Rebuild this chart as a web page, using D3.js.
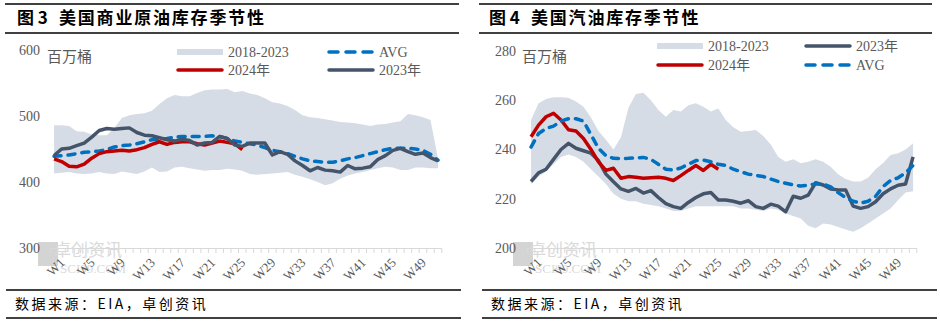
<!DOCTYPE html>
<html>
<head>
<meta charset="utf-8">
<script src="https://cdn.jsdelivr.net/npm/d3@7"></script>
<style>
  body { margin: 0; background: #fff; }
  svg { display: block; }
  .tick-label { font-family: "Liberation Serif", serif; font-size: 14px; fill: #595959; }
  .legend-text { font-family: "Liberation Serif", "Noto Sans CJK SC", serif; font-size: 14px; fill: #595959; }
  .unit { font-family: "Noto Sans CJK SC", sans-serif; font-size: 15px; fill: #595959; }
  .title { font-family: "Noto Sans CJK SC", sans-serif; font-size: 17px; font-weight: bold; fill: #000; }
  .source { font-family: "Noto Sans CJK SC", sans-serif; font-size: 14px; fill: #000; letter-spacing: 2.5px; }
</style>
</head>
<body>
<div id="chart"></div>
<script>
// categories
var weeks = d3.range(1, 53).map(function(i) { return "W" + i; });
var xTickLabels = ["W1", "W5", "W9", "W13", "W17", "W21", "W25", "W29", "W33", "W37", "W41", "W45", "W49"];

// 图3 crude oil (million barrels)
var crudeTicks = [300, 400, 500, 600];
var crudeHigh = [486, 486, 485, 477, 476, 472, 471, 471, 482, 497, 501, 503, 504, 508, 518, 527, 532, 530, 530, 535,
                 539, 540, 540, 541, 536, 538, 534, 532, 527, 521, 519, 515, 509, 501, 498, 497, 495, 493, 491, 490,
                 489, 487, 485, 487, 488, 490, 492, 503, 501, 498, 494, 435];
var crudeLow = [413, 414, 415, 413, 412, 413, 415, 413, 412, 416, 414, 412, 416, 422, 415, 416, 422, 423, 421, 419,
                417, 418, 418, 420, 419, 417, 412, 411, 412, 413, 414, 415, 411, 408, 404, 400, 395, 398, 405, 410,
                413, 415, 418, 421, 423, 422, 418, 418, 422, 422, 421, 421];
var crudeAvg = [439, 440, 441, 443, 445, 446, 447, 449, 453, 455, 456, 458, 461, 464, 465, 466, 468, 469, 469, 469,
                469, 470, 469, 466, 462, 460, 458, 456, 452, 448, 446, 443, 439, 435, 432, 431, 430, 430, 432, 435,
                437, 440, 443, 446, 449, 451, 451, 451, 450, 448, 442, 433];
var crude2023 = [440, 450, 451, 455, 459, 468, 478, 481, 480, 481, 482, 475, 471, 470, 467, 464, 462, 465, 463, 456,
                 459, 460, 469, 466, 456, 454, 459, 459, 459, 441, 446, 442, 432, 425, 417, 422, 418, 417, 415, 425,
                 420, 421, 423, 434, 440, 448, 451, 446, 442, 444, 437, 432];
var crude2024 = [435, 431, 424, 423, 427, 436, 443, 446, 447, 448, 447, 449, 452, 457, 461, 457, 460, 461, 461, 458,
                 456, 459, 462, 460, 458, 449];

// 图4 gasoline (million barrels)
var gasTicks = [200, 220, 240, 260, 280];
var gasHigh = [252, 258.8, 260.5, 261.2, 261.2, 261, 259.5, 257.4, 253, 247.5, 244, 240, 245, 257, 262.5, 263, 260, 256,
               253.3, 256, 255.4, 258, 258.8, 257.4, 255.4, 256.7, 252, 249, 247.2, 247.5, 247.9, 245.5, 242, 237, 235,
               236, 234.4, 235, 236, 235, 233, 230, 228, 227, 227, 228.5, 232, 234.5, 237.8, 238.5, 240, 242.5];
var gasLow = [226, 229, 231, 234, 237, 238, 237, 235, 232, 229, 226, 222, 220, 219, 219, 218, 217.5, 217, 216, 215,
              215, 216, 217, 217, 217, 217, 217, 217, 216, 216, 215.5, 215, 216, 215.5, 214, 213, 212, 209, 208, 210,
              209.5, 208.5, 207.5, 206.6, 208, 210, 212, 214, 216, 219.5, 222.5, 223];
var gasAvg = [241, 246.5, 248.5, 249.5, 251.5, 252.5, 252.5, 251.5, 246, 240.5, 237.5, 236.4, 236.3, 236.4, 236.6, 236.8,
              236, 234, 232, 231.7, 232.5, 234, 235.5, 235.7, 235, 234, 233.5, 232, 231, 230, 229.5, 229, 228, 227,
              226.3, 225.6, 225.2, 225.5, 226, 226, 224.8, 222.5, 220.5, 219, 218.2, 219, 221, 225, 227.4, 228.5, 230.5, 233.5];
var gas2023 = [227, 230.5, 232, 236, 240, 242.5, 240.5, 239.5, 238.5, 235.5, 230, 226.9, 224, 223, 224.2, 222.3, 223.3,
               220.5, 218, 216.8, 216.1, 218.5, 220.5, 222, 222.5, 219.5, 219.5, 219, 218.2, 219.2, 216.8, 216.1, 217.8,
               217, 214.7, 221, 220.2, 221.5, 226.5, 225.6, 224, 223.6, 223.6, 217, 216.1, 216.8, 218.8, 222, 224,
               225.5, 226, 237];
var gas2024 = [245.2, 249.9, 253.3, 254.7, 252, 248, 247.5, 244.5, 240, 235, 231.5, 232.4, 228.3, 229, 228.7, 228.3,
               228.5, 228.7, 228.3, 227.4, 229.4, 231.5, 233.5, 231.5, 234, 232];

var colours = {
  band: "#d6dce5",
  avg: "#0070c0",
  y2024: "#c00000",
  y2023: "#44546a"
};

var svg = d3.select("#chart")
  .append("svg")
    .attr("width", 940)
    .attr("height", 325);

function drawPanel(cfg) {
  var g = svg.append("g");

  // title + rules
  g.append("line").attr("x1", cfg.ruleX[0]).attr("x2", cfg.ruleX[1]).attr("y1", 4).attr("y2", 4)
    .attr("stroke", "#000").attr("stroke-width", 1.5);
  g.append("line").attr("x1", cfg.ruleX[0]).attr("x2", cfg.ruleX[1]).attr("y1", 33).attr("y2", 33)
    .attr("stroke", "#000").attr("stroke-width", 1.5);
  g.append("text").attr("class", "title").attr("x", cfg.titleX).attr("y", 24).text(cfg.num);
  g.append("text").attr("class", "title").attr("x", cfg.titleX + 42).attr("y", 24)
    .attr("letter-spacing", "1.8px").text(cfg.title);

  // footer
  g.append("line").attr("x1", cfg.footX[0]).attr("x2", cfg.footX[1]).attr("y1", 290).attr("y2", 290)
    .attr("stroke", "#000").attr("stroke-width", 1.5);
  g.append("line").attr("x1", cfg.footX[0]).attr("x2", cfg.footX[1]).attr("y1", 318).attr("y2", 318)
    .attr("stroke", "#000").attr("stroke-width", 1.5);
  g.append("text").attr("class", "source").attr("x", cfg.footX[0] + 9).attr("y", 309)
    .text("数据来源：EIA，卓创资讯");

  // scales
  var xScale = d3.scaleBand().domain(weeks).range(cfg.xRange);
  var xPos = function(i) { return xScale(weeks[i]) + xScale.bandwidth() / 2; };
  var yScale = d3.scaleLinear().domain(cfg.yDomain).range([248, cfg.yTop]);

  // watermark
  var wm = g.append("g").attr("transform", "translate(" + cfg.wmX + ",0)");
  wm.append("rect").attr("x", 0).attr("y", 242).attr("width", 20).attr("height", 24).attr("fill", "#d4d4d4");
  wm.append("text").attr("x", 16).attr("y", 256).attr("fill", "#dadada")
    .style("font-family", "Noto Sans CJK SC").style("font-size", "17px").text("卓创资讯");
  wm.append("text").attr("x", 22).attr("y", 273).attr("fill", "#dadada")
    .style("font-family", "Liberation Serif").style("font-size", "13px").text("SCI99.COM");

  // y tick labels
  g.selectAll(".ytick")
    .data(cfg.yTicks)
    .enter()
   .append("text")
    .attr("class", "tick-label")
    .attr("x", cfg.yLabelX)
    .attr("y", function(d) { return yScale(d); })
    .attr("dy", "0.35em")
    .attr("text-anchor", "end")
    .text(function(d) { return d; });

  g.append("text").attr("class", "unit").attr("x", cfg.unitX).attr("y", 62).text("百万桶");

  // band
  var area = d3.area()
    .x(function(d, i) { return xPos(i); })
    .y0(function(d, i) { return yScale(cfg.low[i]); })
    .y1(function(d) { return yScale(d); });
  var line = d3.line()
    .x(function(d, i) { return xPos(i); })
    .y(function(d) { return yScale(d); });

  cfg.order.forEach(function(key) {
    if (key === "band") {
      g.append("path").attr("d", area(cfg.high)).attr("fill", colours.band);
    } else {
      var p = g.append("path")
        .attr("d", line(cfg[key]))
        .attr("fill", "none")
        .attr("stroke", colours[key])
        .attr("stroke-width", 3.5)
        .attr("stroke-linejoin", "round");
      if (key === "avg") {
        p.attr("stroke-dasharray", "7,7").attr("stroke-linecap", "round");
      }
    }
  });

  // x axis
  var x0 = cfg.xRange[0], x1 = cfg.xRange[1];
  g.append("line").attr("x1", x0).attr("x2", x1).attr("y1", 248.5).attr("y2", 248.5)
    .attr("stroke", "#d9d9d9").attr("stroke-width", 1);
  g.selectAll(".xtick")
    .data(weeks.concat(["end"]))
    .enter()
   .append("line")
    .attr("x1", function(d) { return d === "end" ? x1 : xScale(d); })
    .attr("x2", function(d) { return d === "end" ? x1 : xScale(d); })
    .attr("y1", 248.5)
    .attr("y2", 253)
    .attr("stroke", "#d9d9d9");
  g.selectAll(".xlabel")
    .data(xTickLabels)
    .enter()
   .append("text")
    .attr("class", "tick-label")
    .style("font-size", "13px")
    .attr("text-anchor", "end")
    .attr("transform", function(d) {
      return "translate(" + (xScale(d) + xScale.bandwidth() / 2 + 5) + ",257) rotate(-45)";
    })
    .attr("dy", "0.7em")
    .text(function(d) { return d; });

  // legend
  var lg = g.append("g").attr("class", "legend");
  cfg.legend.forEach(function(item) {
    if (item.key === "band") {
      lg.append("rect").attr("x", item.x).attr("y", item.y - 3).attr("width", 46).attr("height", 6)
        .attr("fill", colours.band);
    } else {
      var l = lg.append("line").attr("x1", item.x + 1).attr("x2", item.x + 45)
        .attr("y1", item.y).attr("y2", item.y)
        .attr("stroke", colours[item.key]).attr("stroke-width", 3.5).attr("stroke-linecap", "round");
      if (item.key === "avg") l.attr("stroke-dasharray", "9,8");
    }
    lg.append("text").attr("class", "legend-text").attr("x", item.x + 51).attr("y", item.y)
      .attr("dy", "0.35em").text(item.label);
  });
}

drawPanel({
  num: "图 3", title: "美国商业原油库存季节性", titleX: 17,
  ruleX: [5, 459], footX: [6, 461],
  xRange: [50.3, 441.8], yDomain: [300, 600], yTop: 50, yTicks: crudeTicks, yLabelX: 40,
  unitX: 47, wmX: 38,
  high: crudeHigh, low: crudeLow, avg: crudeAvg, y2023: crude2023, y2024: crude2024,
  order: ["band", "avg", "y2024", "y2023"],
  legend: [
    {key: "band", label: "2018-2023", x: 177, y: 52},
    {key: "avg", label: "AVG", x: 328, y: 52},
    {key: "y2024", label: "2024年", x: 177, y: 70},
    {key: "y2023", label: "2023年", x: 328, y: 70}
  ]
});

drawPanel({
  num: "图 4", title: "美国汽油库存季节性", titleX: 489,
  ruleX: [479, 932], footX: [482, 937],
  xRange: [527.3, 916.8], yDomain: [200, 280], yTop: 51, yTicks: gasTicks, yLabelX: 516,
  unitX: 522, wmX: 513,
  high: gasHigh, low: gasLow, avg: gasAvg, y2023: gas2023, y2024: gas2024,
  order: ["band", "y2023", "y2024", "avg"],
  legend: [
    {key: "band", label: "2018-2023", x: 657, y: 46},
    {key: "y2023", label: "2023年", x: 805, y: 46},
    {key: "y2024", label: "2024年", x: 657, y: 65},
    {key: "avg", label: "AVG", x: 805, y: 65}
  ]
});
</script>
</body>
</html>
